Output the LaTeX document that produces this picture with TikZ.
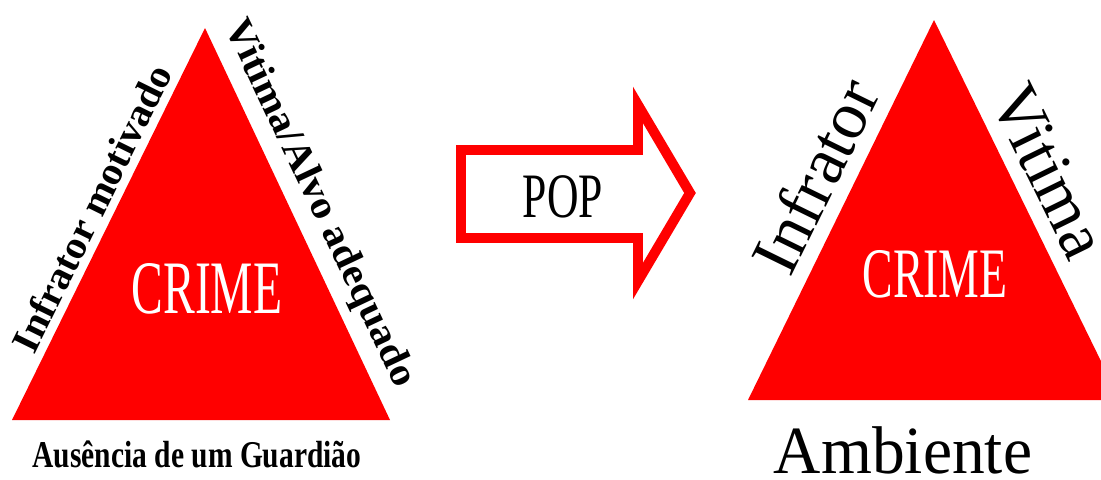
\documentclass[tikz,border=0pt]{standalone}
\usepackage{fontspec}
\setmainfont{Liberation Serif}
\usetikzlibrary{calc}

\tikzset{
	sidetext/.style={inner sep=0pt, text=black, font=\bfseries\fontsize{28}{30}\selectfont},
	crimetext/.style={inner sep=0pt, text=white, anchor=base},
	bigtext/.style={inner sep=0pt, text=black, font=\fontsize{48}{52}\selectfont}
}

\begin{document}
\begin{tikzpicture}[x=0.025cm, y=-0.025cm]
			%%%%% START %%%%%
			\useasboundingbox (0, 0) rectangle (1101, 480);
			\clip (0, 0) rectangle (1101, 480);
			
			% first triangle
			\coordinate (apexL) at (205, 28);
			\coordinate (baseLa) at (12, 420);
			\coordinate (baseLb) at (390, 420);
			\fill[red] (apexL) -- (baseLb) -- (baseLa) -- cycle;
			
			\node[crimetext, xscale=0.63] (crimeL) at (207, 313) {\fontsize{53.7}{60}\selectfont CRIME};
			\node[sidetext, rotate=63.8, xscale=1.03] (infratorL) at (92, 208) {Infrator motivado};
			\node[sidetext, rotate=-64.7, xscale=1.06] (vitimaL) at (319, 204) {Vitima/Alvo adequado};
			\node[sidetext, anchor=base, xscale=0.78, font=\bfseries\fontsize{26.9}{30}\selectfont] (guardiaoL) at (197, 467) {Ausência de um Guardião};
			
			% arrow
			\draw[red, line width=7.1pt, fill=white, miter limit=20] (461, 150) -- (638, 150) -- (638, 105) -- (690, 193) -- (638, 281) -- (638, 238) -- (461, 238) -- cycle;
			\node[inner sep=0pt, anchor=base, xscale=0.69] (pop) at (563, 217) {\fontsize{45}{50}\selectfont POP};
			
			% second triangle
			\coordinate (apexR) at (934, 20);
			\coordinate (baseRa) at (748, 400);
			\coordinate (baseRb) at (1120, 400);
			\fill[red] (apexR) -- (baseRb) -- (baseRa) -- cycle;
			
			\node[crimetext, xscale=0.645] (crimeR) at (935, 297) {\fontsize{50.5}{56}\selectfont CRIME};
			\node[bigtext, rotate=63.9] (infratorR) at (815, 176) {Infrator};
			\node[bigtext, rotate=-63.9] (vitimaR) at (1049, 171) {Vitima};
			\node[bigtext, anchor=base, xscale=0.97] (ambiente) at (903, 473) {Ambiente};
			
			%%%%% END %%%%%
\end{tikzpicture}
\end{document}
